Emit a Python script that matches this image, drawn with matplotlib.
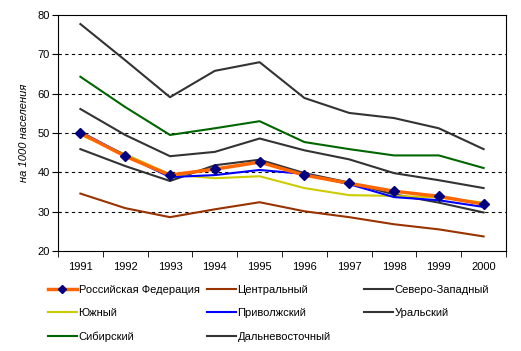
import matplotlib
matplotlib.use("Agg")
import matplotlib.pyplot as plt

years = ["1991", "1992", "1993", "1994", "1995", "1996", "1997", "1998", "1999", "2000"]

rf = [50.0, 44.1, 39.3, 40.8, 42.6, 39.3, 37.2, 35.2, 33.9, 31.9]
central = [34.6, 30.9, 28.6, 30.6, 32.4, 30.1, 28.6, 26.8, 25.5, 23.7]
northwest = [45.9, 41.6, 37.8, 41.8, 43.2, 39.8, 37.4, 34.4, 32.3, 29.8]
south = [49.5, 44.6, 39.5, 38.5, 39.0, 36.0, 34.2, 34.0, 33.6, 32.3]
volga = [50.3, 44.3, 38.8, 39.3, 40.6, 39.6, 37.0, 33.7, 32.9, 31.2]
ural = [56.1, 49.5, 44.1, 45.2, 48.6, 45.6, 43.3, 39.8, 38.0, 36.0]
siberia = [64.3, 56.6, 49.5, 51.2, 53.0, 47.7, 45.9, 44.3, 44.3, 41.1]
fareast = [77.7, 68.5, 59.1, 65.8, 68.0, 58.9, 55.1, 53.8, 51.2, 45.9]

names = ["Российская Федерация", "Центральный", "Северо-Западный", "Южный",
         "Приволжский", "Уральский", "Сибирский", "Дальневосточный"]

plt.rcParams['font.family'] = ['Liberation Sans', 'DejaVu Sans']
plt.rcParams['font.size'] = 8

fig = plt.figure(figsize=(5.21, 3.51), dpi=100)
ax = fig.add_axes([58/521, 1-251/351, (506-58)/521, (251-15)/351])

x = list(range(len(years)))
h = {}
h['c'], = ax.plot(x, central, color='#993300', lw=1.5, label=names[1])
h['nw'], = ax.plot(x, northwest, color='#333333', lw=1.5, label=names[2])
h['s'], = ax.plot(x, south, color='#CCCC00', lw=1.5, label=names[3])
h['v'], = ax.plot(x, volga, color='#0000FF', lw=1.5, label=names[4])
h['u'], = ax.plot(x, ural, color='#333333', lw=1.5, label=names[5])
h['si'], = ax.plot(x, siberia, color='#006600', lw=1.5, label=names[6])
h['fe'], = ax.plot(x, fareast, color='#333333', lw=1.5, label=names[7])
h['rf'], = ax.plot(x, rf, color='#FF6600', lw=2.5, marker='D', markersize=5,
                   markerfacecolor='#000080', markeredgecolor='#000080', label=names[0], zorder=5)

ax.set_xlim(-0.5, len(years) - 0.5)
ax.set_ylim(20, 80)
ax.set_yticks(range(20, 81, 10))
ax.set_xticks(x)
ax.set_xticklabels(years)
ax.set_xticks([i - 0.5 for i in range(len(years) + 1)], minor=True)
ax.tick_params(axis='x', which='major', length=0, pad=8)
ax.tick_params(axis='x', which='minor', length=4, direction='out', color='black')
ax.tick_params(axis='y', length=4, direction='out', pad=2)
for yv in range(30, 80, 10):
    ax.axhline(yv, color='black', lw=0.8, ls=(0, (3, 3)), zorder=0)
for sp in ax.spines.values():
    sp.set_color('black')
    sp.set_linewidth(0.8)
ax.set_ylabel("на 1000 населения", fontstyle='italic', labelpad=6)

cols = [
    ([h['rf'], h['s'], h['si']], 48),
    ([h['c'], h['v'], h['fe']], 207),
    ([h['nw'], h['u']], 364),
]
for handles, xp in cols:
    leg = fig.legend(handles=handles, labels=[hh.get_label() for hh in handles],
                     loc='upper left', bbox_to_anchor=(xp/521, 1-285/351),
                     frameon=False, handlelength=2.6, handletextpad=0.15,
                     labelspacing=1.2, borderpad=0, borderaxespad=0, fontsize=8,
                     numpoints=1, markerscale=0.9)

fig.savefig("out.png", dpi=100)
